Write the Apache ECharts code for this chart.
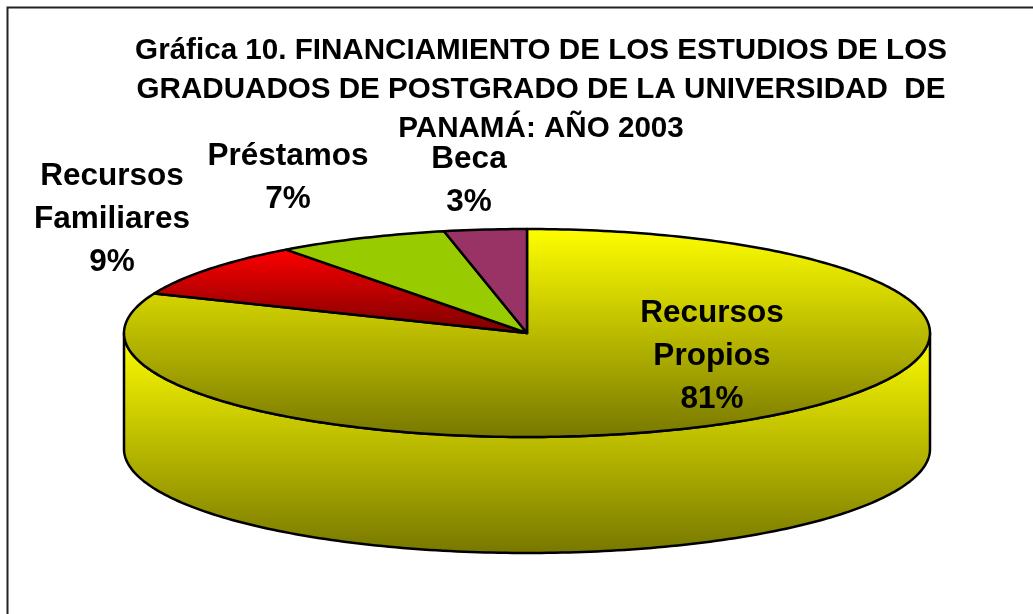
<!DOCTYPE html>
<html>
<head>
<meta charset="utf-8">
<style>html,body{margin:0;padding:0;background:#fff}#c{width:1033px;height:614px}</style>
<script src="https://cdn.jsdelivr.net/npm/echarts@6/dist/echarts.min.js"></script>
</head>
<body>
<div id="c"></div>
<script>
// Data
var categories = ['Recursos Propios', 'Recursos Familiares', 'Préstamos', 'Beca'];
var shares = [81.2, 8.6, 6.9, 3.3];
var titleText = 'Gráfica 10. FINANCIAMIENTO DE LOS ESTUDIOS DE LOS\nGRADUADOS DE POSTGRADO DE LA UNIVERSIDAD  DE\nPANAMÁ: AÑO 2003';

// Layout and style
var sliceFills = [
  ['#ffff00', '#777700'],
  ['#ff0000', '#7a0000'],
  ['#99cc00', '#99cc00'],
  ['#993366', '#993366']
];
var labelAnchors = [[712, 356], [112, 219], [288, 178], [469, 181]];
var disc = { cx: 527, cy: 333, rx: 403, ry: 104, depth: 116 };
var total = shares.reduce(function (a, b) { return a + b; }, 0);

function rim(deg, dy) {
  var t = deg * Math.PI / 180;
  return [disc.cx + disc.rx * Math.sin(t), disc.cy - disc.ry * Math.cos(t) + (dy || 0)];
}
function arc(a, b, dy) {
  var pts = [], n = Math.max(2, Math.ceil(Math.abs(b - a)));
  for (var i = 0; i <= n; i++) pts.push(rim(a + (b - a) * i / n, dy));
  return pts;
}
function grad(c) {
  return new echarts.graphic.LinearGradient(0, 0, 0, 1, [{ offset: 0, color: c[0] }, { offset: 1, color: c[1] }]);
}
var edge = { stroke: '#000', lineWidth: 2.5, lineJoin: 'round' };

function renderSlice(params, api) {
  var i = params.dataIndex, before = 0;
  for (var k = 0; k < i; k++) before += shares[k];
  var start = before / total * 360;
  var end = start + api.value(0) / total * 360;
  var children = [];
  // The front wall is only visible where a slice crosses the near half of the disc
  var a = Math.max(start, 90), b = Math.min(end, 270);
  if (b > a) {
    children.push({
      type: 'polygon',
      shape: { points: arc(a, b, 0).concat(arc(b, a, disc.depth)) },
      style: Object.assign({ fill: grad(sliceFills[i]) }, edge)
    });
  }
  children.push({
    type: 'polygon',
    shape: { points: [[disc.cx, disc.cy]].concat(arc(start, end, 0)) },
    style: Object.assign({ fill: grad(sliceFills[i]) }, edge)
  });
  children.push({
    type: 'text',
    z2: 10,
    style: {
      x: labelAnchors[i][0],
      y: labelAnchors[i][1],
      text: categories[i].replace(' ', '\n') + '\n' + Math.round(api.value(0)) + '%',
      align: 'center',
      verticalAlign: 'middle',
      fill: '#000',
      font: 'bold 31.5px "Liberation Sans", Arial, sans-serif',
      lineHeight: 43
    }
  });
  return { type: 'group', children: children };
}

var chart = echarts.init(document.getElementById('c'), null, { renderer: 'canvas' });
chart.setOption({
  animation: false,
  backgroundColor: '#fff',
  title: {
    text: titleText,
    left: 536,
    top: 26,
    textAlign: 'center',
    textStyle: { fontFamily: '"Liberation Sans", Arial, sans-serif', fontWeight: 'bold', fontSize: 29.6, lineHeight: 39, color: '#000' }
  },
  graphic: [{
    type: 'polyline',
    silent: true,
    shape: { points: [[7.5, 614], [7.5, 7.5], [1033, 7.5]] },
    style: { stroke: '#222', lineWidth: 2, fill: null }
  }],
  series: [{
    type: 'custom',
    coordinateSystem: 'none',
    renderItem: renderSlice,
    data: shares.map(function (v) { return [v]; }),
    encode: { value: 0 }
  }]
});
</script>
</body>
</html>
